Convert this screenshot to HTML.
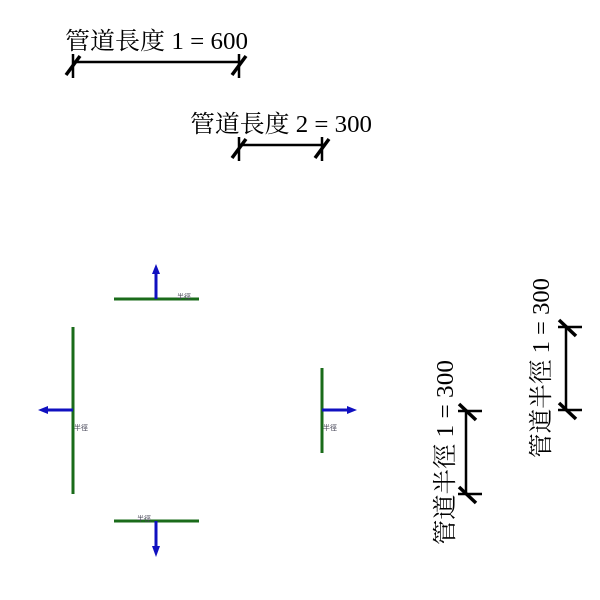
<!DOCTYPE html>
<html><head><meta charset="utf-8"><style>body{margin:0;background:#fff}</style></head><body>
<svg width="600" height="600" xmlns="http://www.w3.org/2000/svg" style="display:block">
<g font-family="Liberation Serif, Noto Serif CJK SC, serif" font-size="24" fill="#000">
<text x="65" y="49" textLength="183" lengthAdjust="spacingAndGlyphs">管道長度 1 = 600</text>
<text x="190" y="132" textLength="182" lengthAdjust="spacingAndGlyphs">管道長度 2 = 300</text>
<text transform="translate(453,545) rotate(-90)" textLength="185" lengthAdjust="spacingAndGlyphs">管道半徑 1 = 300</text>
<text transform="translate(549,458) rotate(-90)" textLength="180" lengthAdjust="spacingAndGlyphs">管道半徑 1 = 300</text>
</g>
<g stroke="#000" stroke-width="2.5" fill="none">
<line x1="73" y1="62" x2="239" y2="62"/>
<line x1="73" y1="54" x2="73" y2="78"/><line x1="239" y1="54" x2="239" y2="78"/>
<line x1="239" y1="145" x2="322" y2="145"/>
<line x1="239" y1="137" x2="239" y2="161"/><line x1="322" y1="137" x2="322" y2="161"/>
<line x1="466" y1="411" x2="466" y2="494"/>
<line x1="458" y1="411" x2="482" y2="411"/><line x1="458" y1="494" x2="482" y2="494"/>
<line x1="566" y1="327" x2="566" y2="410"/>
<line x1="558" y1="327" x2="582" y2="327"/><line x1="558" y1="410" x2="582" y2="410"/>
</g>
<g stroke="#000" stroke-width="3.5">
<line x1="66" y1="75" x2="80" y2="56"/><line x1="232" y1="75" x2="246" y2="56"/>
<line x1="232" y1="158" x2="246" y2="139"/><line x1="315" y1="158" x2="329" y2="139"/>
<line x1="459" y1="404" x2="476" y2="420"/><line x1="459" y1="487" x2="476" y2="503"/>
<line x1="559" y1="320" x2="576" y2="336"/><line x1="559" y1="403" x2="576" y2="419"/>
</g>
<g stroke="#1a6b1a" stroke-width="3">
<line x1="114" y1="299" x2="199" y2="299"/>
<line x1="73" y1="327" x2="73" y2="494"/>
<line x1="322" y1="368" x2="322" y2="453"/>
<line x1="114" y1="521" x2="199" y2="521"/>
</g>
<g stroke="#1010c0" stroke-width="3" fill="#1010c0">
<line x1="156" y1="299" x2="156" y2="272"/><polygon points="152,274 160,274 156,264" stroke="none"/>
<line x1="73" y1="410" x2="46" y2="410"/><polygon points="48,406 48,414 38,410" stroke="none"/>
<line x1="322" y1="410" x2="349" y2="410"/><polygon points="347,406 347,414 357,410" stroke="none"/>
<line x1="156" y1="521" x2="156" y2="548"/><polygon points="152,546 160,546 156,557" stroke="none"/>
</g>
<g font-family="Liberation Sans, Noto Sans CJK TC, sans-serif" font-size="7" fill="#445">
<text x="177" y="299">半徑</text>
<text x="74" y="430">半徑</text>
<text x="323" y="430">半徑</text>
<text x="137" y="521">半徑</text>
</g>
</svg>
</body></html>
